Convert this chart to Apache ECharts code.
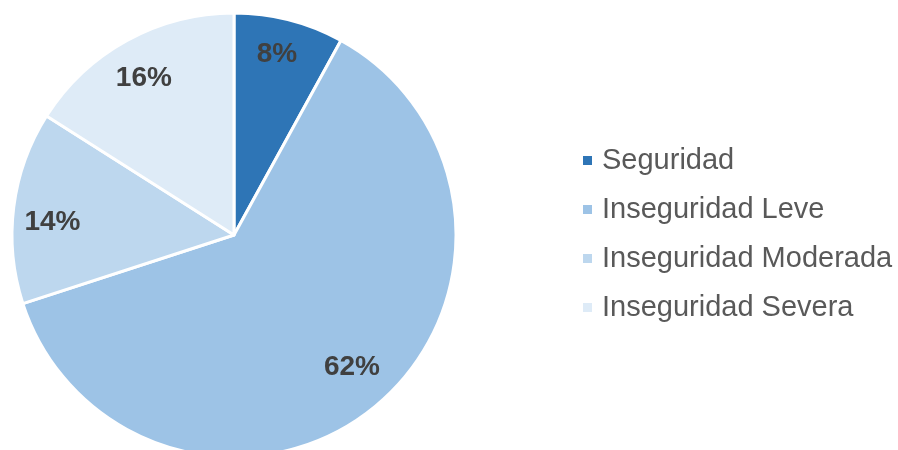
<!DOCTYPE html>
<html>
<head>
<meta charset="utf-8">
<script src="https://cdn.jsdelivr.net/npm/echarts@6/dist/echarts.min.js"></script>
<style>
  html, body { margin: 0; padding: 0; background: #ffffff; }
  #chart { width: 898px; height: 450px; }
</style>
</head>
<body>
<div id="chart"></div>
<script>
// Food security categories and their shares (%)
const categories = ['Seguridad', 'Inseguridad Leve', 'Inseguridad Moderada', 'Inseguridad Severa'];
const shares = [8, 62, 14, 16];
const colors = ['#2E75B6', '#9DC3E6', '#BDD7EE', '#DEEBF7'];
// fine placement of each percentage label (px)
const labelOffsets = [[-3, -2], [0, -10], [2, 10], [-1, 5]];

const chart = echarts.init(document.getElementById('chart'), null, { renderer: 'canvas' });

const sliceData = categories.map((name, i) => ({
  name: name,
  value: shares[i],
  itemStyle: { color: colors[i] }
}));

const center = [234, 235];

chart.setOption({
  animation: false,
  backgroundColor: '#ffffff',
  legend: {
    orient: 'vertical',
    left: 576,
    top: 141,
    data: categories,
    icon: 'rect',
    itemWidth: 11,
    itemHeight: 11,
    itemGap: 20,
    textStyle: {
      fontFamily: 'Liberation Sans, Arial, sans-serif',
      fontSize: 29,
      color: '#595959',
      padding: [0, 0, 0, 4]
    },
    selectedMode: false
  },
  series: [
    {
      type: 'pie',
      center: center,
      radius: [0, 222],
      startAngle: 90,
      clockwise: true,
      silent: true,
      data: sliceData,
      itemStyle: { borderColor: '#ffffff', borderWidth: 3 },
      label: { show: false },
      labelLine: { show: false }
    },
    {
      // label ring: places the percentage text near the outer edge of each slice
      type: 'pie',
      center: center,
      radius: [142, 222],
      startAngle: 90,
      clockwise: true,
      silent: true,
      data: sliceData.map((d, i) => ({
        name: d.name,
        value: d.value,
        itemStyle: { color: 'rgba(0,0,0,0)' },
        label: { offset: labelOffsets[i] }
      })),
      itemStyle: { borderWidth: 0 },
      label: {
        show: true,
        position: 'inside',
        formatter: p => p.value + '%',
        fontFamily: 'Liberation Sans, Arial, sans-serif',
        fontSize: 28,
        fontWeight: 'bold',
        color: '#404040'
      },
      labelLine: { show: false }
    }
  ]
});
</script>
</body>
</html>
